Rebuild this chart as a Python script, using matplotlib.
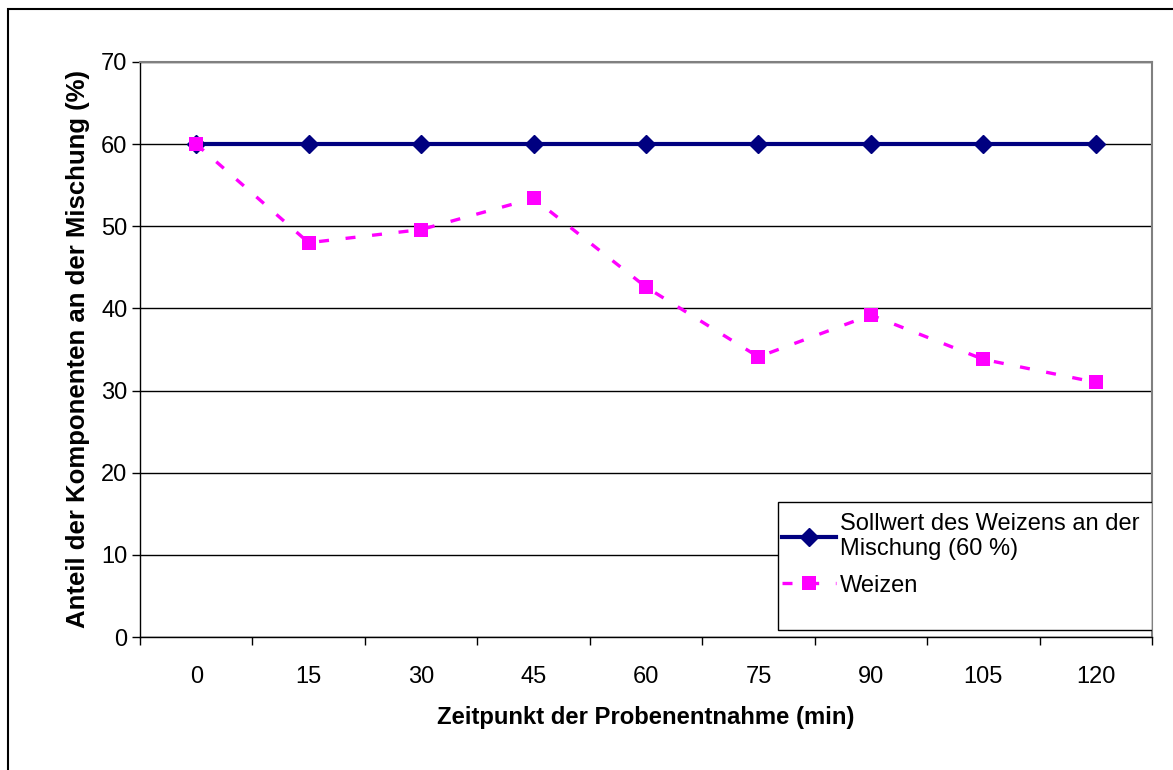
import matplotlib
matplotlib.use("Agg")
import matplotlib.pyplot as plt
from matplotlib.lines import Line2D
from matplotlib.patches import Rectangle

plt.rcParams['font.family'] = ['Liberation Sans', 'DejaVu Sans']

# Probenentnahme in Minuten, Anteil Weizen in %
zeit = ['0', '15', '30', '45', '60', '75', '90', '105', '120']
sollwert = [60, 60, 60, 60, 60, 60, 60, 60, 60]
weizen = [60.0, 48.0, 49.6, 53.4, 42.6, 34.1, 39.2, 33.8, 31.0]

navy = '#000080'
magenta = '#FF00FF'

fig = plt.figure(figsize=(11.73, 7.7), dpi=100)
# outer chart frame
fig.patches.append(Rectangle((8 / 1173, -0.05), 1.2, 1 - 9 / 770 + 0.05,
                             transform=fig.transFigure, fill=False,
                             edgecolor='black', linewidth=1.5))
ax = fig.add_axes([140 / 1173, 1 - 637 / 770, 1012 / 1173, 575 / 770])

pos = list(range(len(zeit)))
ax.plot(pos, sollwert, color=navy, linewidth=3, marker='D', markersize=9,
        zorder=3)
ax.plot(pos, weizen, color=magenta, linewidth=2.4, dashes=(3, 5),
        marker='s', markersize=10.5, markeredgewidth=0, zorder=4)

ax.set_xlim(-0.5, len(zeit) - 0.5)
ax.set_ylim(0, 70)
ax.set_yticks(range(0, 71, 10))
ax.yaxis.grid(True, color='black', linewidth=1)
ax.set_axisbelow(True)

ax.set_xticks(pos)
ax.set_xticklabels(zeit)
ax.set_xticks([p - 0.5 for p in pos] + [len(zeit) - 0.5], minor=True)
ax.tick_params(axis='x', which='major', length=0, pad=21, labelsize=17)
ax.tick_params(axis='x', which='minor', length=6, width=1, direction='out')
ax.tick_params(axis='y', length=6, width=1, direction='out', pad=3,
               labelsize=17)

for side in ('top', 'right'):
    ax.spines[side].set_color('#808080')
    ax.spines[side].set_linewidth(1.5)
for side in ('left', 'bottom'):
    ax.spines[side].set_color('black')
    ax.spines[side].set_linewidth(1)

ax.set_xlabel('Zeitpunkt der Probenentnahme (min)', fontsize=17.2,
              fontweight='bold', labelpad=13)
ax.set_ylabel('Anteil der Komponenten an der Mischung (%)', fontsize=18.5,
              fontweight='bold', labelpad=8)

# legend box in the lower right corner
ax.add_patch(Rectangle((638 / 1012, 7 / 575), 374 / 1012, 128 / 575,
                       transform=ax.transAxes, facecolor='white',
                       edgecolor='black', linewidth=1, zorder=5))
handles = [
    Line2D([], [], color=navy, linewidth=3, marker='D', markersize=9),
    Line2D([], [], color=magenta, linewidth=2.4, dashes=(3, 5),
           marker='s', markersize=10.5, markeredgewidth=0),
]
labels = ['Sollwert des Weizens an der\nMischung (60 %)', 'Weizen']
leg = ax.legend(handles, labels, loc='upper left',
                bbox_to_anchor=(642 / 1012, 124 / 575), frameon=False,
                fontsize=17, handlelength=2.3, handletextpad=0.15,
                borderaxespad=0, borderpad=0, labelspacing=0.6)
leg.set_zorder(6)
for txt in leg.get_texts():
    txt.set_linespacing(1.2)

fig.savefig('out.png', dpi=100)
